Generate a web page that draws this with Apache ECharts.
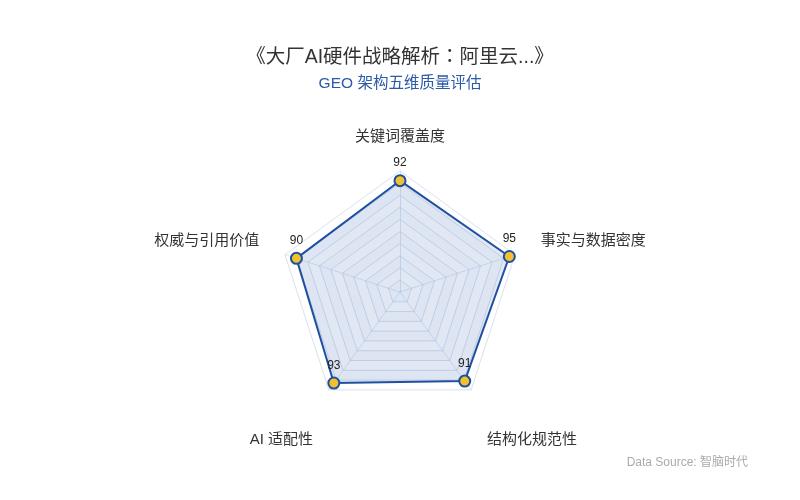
<!DOCTYPE html>
<html>
<head>
<meta charset="utf-8">
<script src="https://cdn.jsdelivr.net/npm/echarts@6/dist/echarts.min.js"></script>
<style>
  html, body { margin: 0; padding: 0; background: #fff; }
  #main { width: 800px; height: 500px; }
</style>
</head>
<body>
<div id="main"></div>
<script>
// indicators listed counter-clockwise from the top (ECharts radar order)
var indicatorNames = ['关键词覆盖度', '权威与引用价值', 'AI 适配性', '结构化规范性', '事实与数据密度'];
var scores = [92, 90, 93, 91, 95];
var maxScore = 100;

var myChart = echarts.init(document.getElementById('main'));
var font = '"Liberation Sans", "Noto Sans CJK SC", sans-serif';
var titleFont = '"Liberation Sans", "Noto Sans CJK TC", sans-serif';

// lower names sit a bit further out, side names a little higher
function nameFormatter(name) {
    var i = indicatorNames.indexOf(name);
    var ang = Math.PI / 2 + i * 2 * Math.PI / indicatorNames.length;
    var s = Math.sin(ang);
    if (s < -0.5) return '{low|' + name + '}';
    if (Math.abs(s) < 0.5) return '{side|' + name + '}';
    return name;
}

var option = {
    backgroundColor: '#fff',
    title: {
        text: '《大厂AI硬件战略解析：阿里云...》',
        subtext: 'GEO 架构五维质量评估',
        left: 'center',
        top: 43,
        itemGap: 8,
        textStyle: { fontSize: 19.5, fontWeight: 'normal', color: '#333', fontFamily: titleFont },
        subtextStyle: { fontSize: 15.5, color: '#2b5aa8', fontFamily: font }
    },
    graphic: [{
        type: 'text',
        right: 52,
        top: 457,
        style: { text: 'Data Source: 智脑时代', fill: '#aaa', fontSize: 12, fontFamily: font }
    }],
    radar: {
        center: [400, 292],
        radius: 121,
        startAngle: 90,
        splitNumber: 10,
        nameGap: 27,
        indicator: indicatorNames.map(function (n) { return { name: n, max: maxScore }; }),
        axisName: {
            color: '#333', fontSize: 15, fontFamily: font,
            formatter: nameFormatter,
            rich: {
                low: { color: '#333', fontSize: 15, fontFamily: font, padding: [56, 0, 0, 0] },
                side: { color: '#333', fontSize: 15, fontFamily: font, padding: [0, 0, 10, 0] }
            }
        },
        axisLine: { lineStyle: { color: 'rgba(190,205,230,0.5)' } },
        splitLine: { lineStyle: { color: 'rgba(180,195,225,0.5)' } },
        splitArea: { areaStyle: { color: ['rgba(248,250,253,0.5)', 'rgba(255,255,255,0.5)'] } }
    },
    series: [{
        type: 'radar',
        symbol: 'circle',
        symbolSize: 11,
        lineStyle: { color: '#1f4fa0', width: 2 },
        itemStyle: { color: '#f2c12e', borderColor: '#1f4fa0', borderWidth: 2 },
        areaStyle: { color: 'rgba(40,90,175,0.2)' },
        label: { show: true, position: 'top', color: '#222', fontSize: 12, fontFamily: font },
        data: [{ value: scores, name: 'GEO' }]
    }]
};

myChart.setOption(option);
</script>
</body>
</html>
